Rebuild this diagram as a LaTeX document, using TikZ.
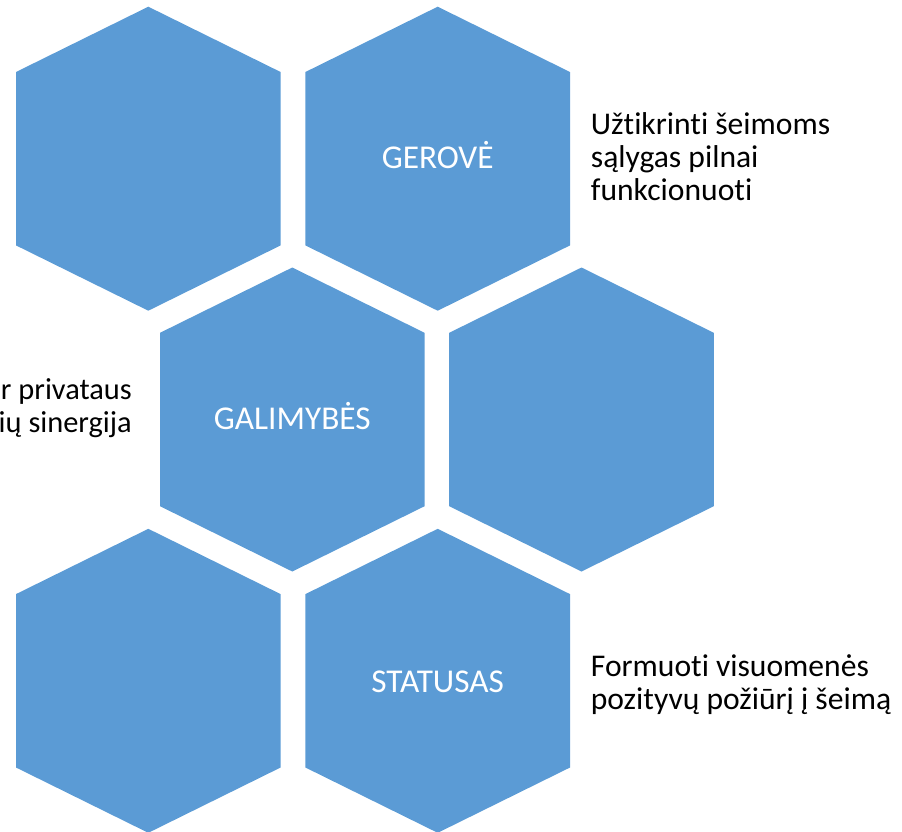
\documentclass[tikz,border=0pt]{standalone}
\usepackage{fontspec}
\setmainfont[Ligatures={NoCommon}]{Carlito}
\definecolor{hexblue}{HTML}{5B9BD5}
\newcommand{\myhex}[3]{%
  \fill[hexfill] ({#2},{#3-152}) -- ({#2+132.3},{#3-86.7}) -- ({#2+132.3},{#3+86.7})
    -- ({#2},{#3+152}) -- ({#2-132.3},{#3+86.7}) -- ({#2-132.3},{#3-86.7}) -- cycle;
  \coordinate (#1) at ({#2},{#3});}
\tikzset{
  hexfill/.style={fill=hexblue},
  hexlabel/.style={text=white, font=\fontsize{33.3}{36}\selectfont, inner sep=0pt, anchor=base},
  sidetext/.style={text=black, font=\fontsize{31.6}{33}\selectfont, inner sep=0pt},
  lefttext/.style={sidetext, font=\fontsize{30.4}{33}\selectfont},
}
\begin{document}
\begin{tikzpicture}[x=1pt,y=-1pt]
\useasboundingbox (0,0) rectangle (902,831);
\myhex{h1}{148.3}{158.7}
\myhex{h2}{437.7}{158.7}
\myhex{h3}{292.3}{419.5}
\myhex{h4}{581.5}{419.5}
\myhex{h5}{148.3}{680.8}
\myhex{h6}{437.7}{680.8}
\node[hexlabel] (gerove) at (437.7,168.3) {GEROVĖ};
\node[hexlabel] (galimybes) at (292.3,429.3) {GALIMYBĖS};
\node[hexlabel] (statusas) at (437.7,692.7) {STATUSAS};
\node[sidetext, anchor=base west] (t1a) at (590.7,134.3) {Užtikrinti šeimoms};
\node[sidetext, anchor=base west] (t1b) at (590.7,167.3) {sąlygas pilnai};
\node[sidetext, anchor=base west] (t1c) at (590.7,200.3) {funkcionuoti};
\node[sidetext, anchor=base west] (t3a) at (590.7,676) {Formuoti visuomenės};
\node[sidetext, anchor=base west] (t3b) at (590.7,709) {pozityvų požiūrį į šeimą};
\node[lefttext, anchor=base east] (t2a) at (132,399.3) {r privataus};
\node[lefttext, anchor=base east] (t2b) at (132,432.3) {ių sinergija};
\end{tikzpicture}
\end{document}
